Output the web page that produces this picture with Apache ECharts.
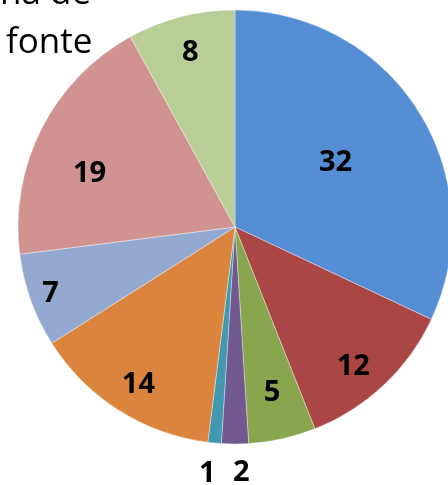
<!DOCTYPE html>
<html>
<head>
<meta charset="utf-8">
<style>html,body{margin:0;padding:0;background:#fff;}#c{width:448px;height:485px;}</style>
<script src="https://cdn.jsdelivr.net/npm/echarts@6/dist/echarts.min.js"></script>
</head>
<body>
<div id="c"></div>
<script>
var categories = ['A','B','C','D','E','F','G','H','I'];
var values = [32, 12, 5, 2, 1, 14, 7, 19, 8];
var colors = ['#558ED5','#AA4643','#89A54E','#71588F','#4198AF','#DB843D','#93A9CF','#D19392','#B9CD96'];
// label placement style: radial factor and angular nudge (deg)
var labelRadial = [0.535, 0.83, 0.77, 1.12, 1.13, 0.84, 0.89, 0.70, 0.815];
var labelNudge = [0, 3, 0, -1.5, 1, -1, 0, -7, 0];

var R = 217, CX = 235, CY = 227;
var total = values.reduce(function(a,b){return a+b;},0);
var cum = 0;
var data = values.map(function(v,i){
  var mid = (cum + v/2)/total*360 + labelNudge[i];
  cum += v;
  var rad = mid*Math.PI/180;
  var dx = Math.sin(rad), dy = -Math.cos(rad);
  var midPlain = (cum - v/2)/total*360*Math.PI/180;
  var ix = Math.sin(midPlain)*R/2, iy = -Math.cos(midPlain)*R/2;
  var tx = dx*R*labelRadial[i], ty = dy*R*labelRadial[i];
  return {
    name: categories[i], value: v,
    itemStyle: {color: colors[i]},
    label: {offset: [tx-ix, ty-iy]}
  };
});

var chart = echarts.init(document.getElementById('c'), null, {renderer:'canvas'});
chart.setOption({
  animation: false,
  graphic: [
    {type:'text', left: 0, top: -23, style:{text:'na de', font:'35px "Open Sans"', fill:'#000'}},
    {type:'text', left: 6, top: 26, style:{text:'fonte', font:'35px "Open Sans"', fill:'#000'}}
  ],
  series: [{
    type: 'pie',
    center: [CX, CY],
    radius: [0, R],
    startAngle: 90,
    clockwise: true,
    avoidLabelOverlap: false,
    itemStyle: {borderColor: 'rgba(255,255,255,0.6)', borderWidth: 0.6},
    label: {
      show: true,
      position: 'inside',
      formatter: '{c}',
      color: '#000',
      fontFamily: 'Open Sans',
      fontWeight: 'bold',
      fontSize: 29
    },
    labelLine: {show: false},
    emphasis: {disabled: true},
    data: data
  }]
});
</script>
</body>
</html>
